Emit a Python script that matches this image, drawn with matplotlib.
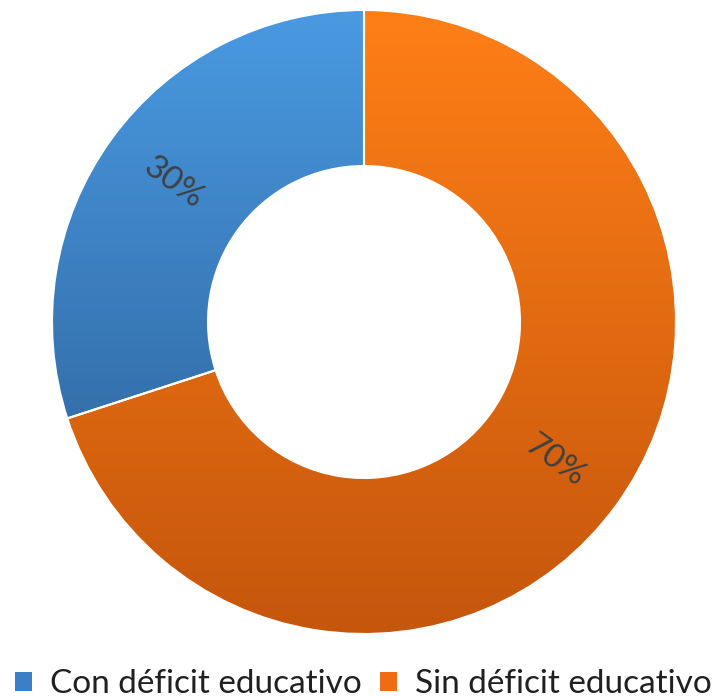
import matplotlib.pyplot as plt
import matplotlib.colors as mcolors
import numpy as np
from matplotlib.patches import Patch

labels = ["Con déficit educativo", "Sin déficit educativo"]
values = [30, 70]
top_colors = ["#4A9AE2", "#FF7F17"]
bottom_colors = ["#3470AC", "#C5560C"]

plt.rcParams['font.family'] = ['Lato', 'DejaVu Sans']

W, H = 727, 698
fig = plt.figure(figsize=(W / 100, H / 100), dpi=100)
ax = fig.add_axes([0, 0, 1, 1])

cx, cy, r = 364, H - 322, 312
wedges, _ = ax.pie(values, startangle=90, counterclock=True, radius=r,
                   center=(cx, cy), wedgeprops=dict(width=r * 0.5, edgecolor="white", linewidth=1.5))

# vertical gradient inside each wedge
for w, c0, c1 in zip(wedges, top_colors, bottom_colors):
    bb = w.get_path().get_extents(w.get_patch_transform())
    cmap = mcolors.LinearSegmentedColormap.from_list("g", [c1, c0])
    grad = np.linspace(0, 1, 256).reshape(-1, 1)
    im = ax.imshow(grad, cmap=cmap, origin="lower", aspect="auto",
                   extent=[bb.x0, bb.x1, bb.y0, bb.y1], zorder=1)
    im.set_clip_path(w)
    w.set_facecolor("none")
    w.set_zorder(2)

# percentage labels, written along the radius
total = sum(values)
start = 90
for v in values:
    ang = start + 360 * v / total / 2
    start += 360 * v / total
    rad = np.deg2rad(ang)
    rot = ang - 180 if 90 < ang % 360 < 270 else ang % 360
    if rot > 180:
        rot -= 360
    ax.text(cx + 236 * np.cos(rad), cy + 236 * np.sin(rad), f"{v}%",
            rotation=rot, rotation_mode="anchor", ha="center", va="center",
            fontsize=24, color="#404040", zorder=3)

ax.set_xlim(0, W)
ax.set_ylim(0, H)
ax.set_aspect("equal")
ax.axis("off")

handles = [Patch(facecolor=c) for c in ["#3B80C6", "#F06C12"]]
fig.legend(handles, labels, loc="lower center", bbox_to_anchor=(0.5, -0.045), ncol=2,
           frameon=False, fontsize=24, handlelength=0.5, handleheight=0.5,
           handletextpad=0.55, columnspacing=0.55, labelcolor="#202020")

fig.savefig("out.png", dpi=100)
